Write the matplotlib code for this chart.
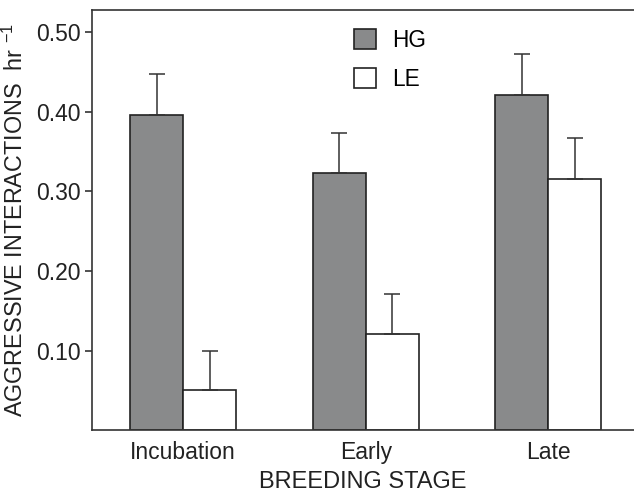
import matplotlib
matplotlib.use('Agg')
import matplotlib.pyplot as plt
import numpy as np

plt.rcParams['font.family'] = ['Liberation Sans', 'DejaVu Sans']
plt.rcParams['mathtext.fontset'] = 'custom'
plt.rcParams['mathtext.rm'] = 'Liberation Sans'
plt.rcParams['mathtext.it'] = 'Liberation Sans'

# 数据
stages = ['Incubation', 'Early', 'Late']
hg = [0.396, 0.323, 0.421]
hg_err = [0.052, 0.050, 0.052]
le = [0.050, 0.121, 0.316]
le_err = [0.050, 0.050, 0.051]

fig = plt.figure(figsize=(6.34, 4.95), dpi=100)
ax = fig.add_axes([0.145, 0.131, 0.855, 0.849])

x = np.arange(len(stages))
w = 0.29
ekw = dict(ecolor='#333333', elinewidth=1.1, capsize=5.5, capthick=1.1)
ax.bar(x - w / 2, hg, w, color='#898a8b', edgecolor='#222222', linewidth=1.2,
       yerr=[np.zeros(3), hg_err], error_kw=ekw, label='HG')
ax.bar(x + w / 2, le, w, color='white', edgecolor='#222222', linewidth=1.2,
       yerr=[np.zeros(3), le_err], error_kw=ekw, label='LE')

ax.set_xlim(-0.5, 2.47)
ax.set_ylim(0, 0.528)
ax.set_yticks([0.1, 0.2, 0.3, 0.4, 0.5])
ax.set_yticklabels(['0.10', '0.20', '0.30', '0.40', '0.50'])
ax.set_xticks(x)
ax.set_xticklabels(stages)
ax.tick_params(axis='x', length=0, pad=8, labelsize=16.5, colors='#222222')
ax.tick_params(axis='y', length=5, width=1.1, pad=3, labelsize=16.5, colors='#222222')
ax.spines['right'].set_visible(False)
for s in ['left', 'top', 'bottom']:
    ax.spines[s].set_color('#333333')
    ax.spines[s].set_linewidth(1.2)

ax.set_xlabel('BREEDING STAGE', fontsize=17, color='#222222', labelpad=5)
ax.set_ylabel('AGGRESSIVE INTERACTIONS  hr $^{\\mathregular{-1}}$', fontsize=16.8,
              color='#222222', labelpad=6)

ax.legend(loc='upper left', bbox_to_anchor=(0.483, 0.955), frameon=False,
          fontsize=16.3, handlelength=1.0, handleheight=0.95, handletextpad=0.7,
          labelspacing=0.7, borderpad=0, borderaxespad=0)

fig.savefig('out.png', dpi=100)
